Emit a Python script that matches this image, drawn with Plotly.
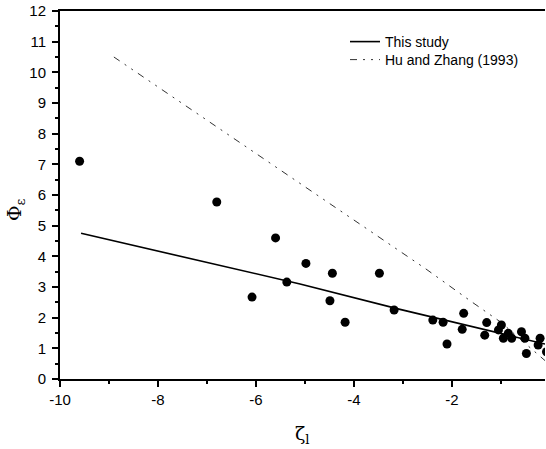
import plotly.graph_objects as go

# Measured data points (zeta_l, Phi_eps)
zeta_pts = [-9.6, -6.8, -5.6, -4.98, -6.08, -5.37, -4.44, -3.48, -4.49, -4.18,
            -3.18, -2.39, -2.18, -1.76, -1.79, -2.1, -1.29, -1.33, -0.99, -1.05,
            -0.95, -0.85, -0.78, -0.58, -0.51, -0.48, -0.2, -0.24, -0.07]
phi_pts = [7.1, 5.77, 4.6, 3.77, 2.67, 3.16, 3.45, 3.45, 2.55, 1.85,
           2.25, 1.92, 1.85, 2.14, 1.62, 1.14, 1.84, 1.43, 1.76, 1.6,
           1.33, 1.49, 1.33, 1.54, 1.33, 0.83, 1.33, 1.11, 0.89]

# This study fit line
study_x = [-9.57, -5.1, -3.06, -1.7, -1.02, -0.1]
study_y = [4.75, 3.1, 2.27, 1.75, 1.48, 1.14]

# Hu and Zhang (1993)
hz_x = [-8.9, -4.35, -2.55, -1.6, -1.0, -0.1]
hz_y = [10.5, 5.56, 3.61, 2.52, 1.85, 0.6]

# Tick labels
x_tickvals = [-10, -8, -6, -4, -2]
x_ticktext = ["-10", "-8", "-6", "-4", "-2"]
y_tickvals = list(range(0, 13))
y_ticktext = [str(v) for v in y_tickvals]

font_ticks = dict(family="Liberation Sans, Arial, sans-serif", size=15, color="black")
font_leg = dict(family="Liberation Sans, Arial, sans-serif", size=14, color="black")

# plot area in page px: x 60..545, y 11..379 (body margin removed by post_script)
PL, PR, PT, PB = 60, 545, 11, 379
W, H = 546, 449

def px(xp):
    return (xp - PL) / (PR - PL)

def py(yp):
    return (PB - yp) / (PB - PT)

fig = go.Figure()
fig.add_trace(go.Scatter(x=study_x, y=study_y, mode="lines", name="This study",
                         legend="legend",
                         line=dict(color="black", width=1.6)))
fig.add_trace(go.Scatter(x=hz_x, y=hz_y, mode="lines", name="Hu and Zhang (1993)",
                         legend="legend2",
                         line=dict(color="#333333", width=1, dash="7px,6px,2px,6px,2px,6px")))
fig.add_trace(go.Scatter(x=zeta_pts, y=phi_pts, mode="markers", showlegend=False,
                         marker=dict(color="black", size=9)))

fig.update_layout(
    width=W, height=H,
    margin=dict(l=PL, r=W - PR, t=PT, b=H - PB),
    plot_bgcolor="white", paper_bgcolor="white",
    showlegend=True,
    legend=dict(x=px(345), y=py(26), xanchor="left", yanchor="top",
                bgcolor="rgba(0,0,0,0)", font=font_leg),
    legend2=dict(x=px(345), y=py(44), xanchor="left", yanchor="top",
                 bgcolor="rgba(0,0,0,0)", font=font_leg),
    xaxis=dict(range=[-10, -0.1], tickvals=x_tickvals, ticktext=x_ticktext,
               showgrid=False, zeroline=False,
               showline=True, linecolor="black", linewidth=2, mirror=True,
               ticks="outside", ticklen=6, tickwidth=1.5, tickcolor="black",
               minor=dict(dtick=1, ticks="outside", ticklen=3, tickcolor="black"),
               tickfont=font_ticks),
    yaxis=dict(range=[0, 12], tickvals=y_tickvals, ticktext=y_ticktext,
               showgrid=False, zeroline=False,
               showline=True, linecolor="black", linewidth=2,
               ticks="outside", ticklen=6, tickwidth=1.5, tickcolor="black",
               minor=dict(dtick=0.5, ticks="outside", ticklen=3, tickcolor="black"),
               tickfont=font_ticks, ticklabelstandoff=3, ticklabeloverflow="allow"),
    annotations=[
        dict(text="ζ<sub>l</sub>", xref="paper", yref="paper", x=px(302), y=py(434),
             showarrow=False, font=dict(family="DejaVu Serif, serif", size=19, color="black"),
             xanchor="center", yanchor="middle"),
        dict(text="Φ<sub>ε</sub>", xref="paper", yref="paper", x=px(15), y=py(210),
             showarrow=False, textangle=-90, font=dict(family="DejaVu Serif, serif", size=19, color="black"),
             xanchor="center", yanchor="middle"),
    ],
)

fig.write_html("out.html", config={"displayModeBar": False},
               post_script="document.body.style.margin='0';document.body.style.overflow='hidden';")
